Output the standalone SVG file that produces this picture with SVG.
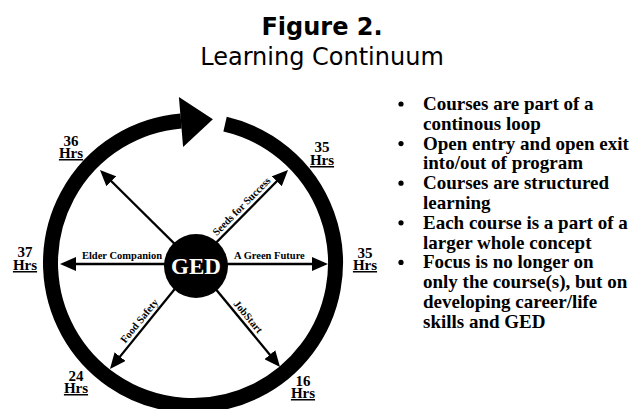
<svg xmlns="http://www.w3.org/2000/svg" width="634" height="409" viewBox="0 0 634 409">
  <style>
    .title { font-family: "DejaVu Sans", Verdana, sans-serif; font-size: 24px; fill: #000; text-anchor: middle; }
    .serif { font-family: "Liberation Serif", "Times New Roman", serif; font-weight: bold; fill: #000; }
    .spoke { stroke: #000; stroke-width: 2.3; fill: none; marker-end: url(#head); }
    .lbl { font-size: 10.5px; }
    .hrs { font-size: 15px; text-anchor: middle; }
    .ul { text-decoration: underline; }
    .bullets { font-size: 19px; }
  </style>
  <defs>
    <marker id="head" markerUnits="userSpaceOnUse" markerWidth="16" markerHeight="14" refX="12" refY="7" orient="auto">
      <path d="M0,0 L16,7 L0,14 Z" fill="#000"/>
    </marker>
  </defs>
  <rect width="634" height="409" fill="#fff"/>

  <g id="title">
    <text class="title" x="322" y="35" font-weight="bold">Figure 2.</text>
    <text class="title" x="322" y="65">Learning Continuum</text>
  </g>

  <!-- continuous loop: thick ring with an arrowhead closing the circle at the top -->
  <g id="loop">
    <path d="M225.06,124.15 A142.5,142.5 0 1 1 181.08,121.0" fill="none" stroke="#000" stroke-width="15"/>
    <polygon points="178.9,97.1 212.9,119.3 183.1,146.9" fill="#000"/>
  </g>

  <!-- spokes from the GED hub to each course -->
  <g id="connectors">
    <line class="spoke" x1="195" y1="264" x2="102.8" y2="172.8"/>
    <line class="spoke" x1="195" y1="264" x2="285.2" y2="172.8"/>
    <line class="spoke" x1="195" y1="264" x2="64" y2="264"/>
    <line class="spoke" x1="195" y1="264" x2="324" y2="264"/>
    <line class="spoke" x1="195" y1="264" x2="112.5" y2="365.9"/>
    <line class="spoke" x1="195" y1="264" x2="277.5" y2="363.9"/>

    <text class="serif lbl" x="162" y="259" text-anchor="end">Elder Companion</text>
    <text class="serif lbl" x="234" y="259">A Green Future</text>
    <text class="serif lbl" transform="translate(195,264) rotate(-45.3)" x="35" y="-4">Seeds for Success</text>
    <text class="serif lbl" transform="translate(195,264) rotate(-51)" x="-106" y="-4">Food Safety</text>
    <text class="serif lbl" transform="translate(195,264) rotate(50.5)" x="55" y="-4">JobStart</text>
  </g>

  <g id="ged">
    <circle cx="196" cy="266" r="32" fill="#000"/>
    <text class="serif" x="196" y="274" font-size="23" text-anchor="middle" style="fill:#fff">GED</text>
  </g>

  <!-- course hours around the loop -->
  <g id="hours-36"><text class="serif hrs" x="71" y="146">36<tspan class="ul" x="71" dy="12">Hrs</tspan></text></g>
  <g id="hours-35-top"><text class="serif hrs" x="322" y="152">35<tspan class="ul" x="322" dy="13">Hrs</tspan></text></g>
  <g id="hours-37"><text class="serif hrs" x="25" y="257">37<tspan class="ul" x="25" dy="13">Hrs</tspan></text></g>
  <g id="hours-35-right"><text class="serif hrs" x="365" y="258">35<tspan class="ul" x="365" dy="12">Hrs</tspan></text></g>
  <g id="hours-24"><text class="serif hrs" x="76" y="381">24<tspan class="ul" x="76" dy="12">Hrs</tspan></text></g>
  <g id="hours-16"><text class="serif hrs" x="303" y="386">16<tspan class="ul" x="303" dy="12">Hrs</tspan></text></g>

  <g id="notes">
    <circle cx="401" cy="104" r="2.6"/>
    <circle cx="401" cy="143.6" r="2.6"/>
    <circle cx="401" cy="183.2" r="2.6"/>
    <circle cx="401" cy="222.8" r="2.6"/>
    <circle cx="401" cy="262.4" r="2.6"/>
    <text class="serif bullets">
      <tspan x="423" y="110">Courses are part of a</tspan>
      <tspan x="423" dy="19.8">continous loop</tspan>
      <tspan x="423" dy="19.8">Open entry and open exit</tspan>
      <tspan x="423" dy="19.8">into/out of program</tspan>
      <tspan x="423" dy="19.8">Courses are structured</tspan>
      <tspan x="423" dy="19.8">learning</tspan>
      <tspan x="423" dy="19.8">Each course is a part of a</tspan>
      <tspan x="423" dy="19.8">larger whole concept</tspan>
      <tspan x="423" dy="19.8">Focus is no longer on</tspan>
      <tspan x="423" dy="19.8">only the course(s), but on</tspan>
      <tspan x="423" dy="19.8">developing career/life</tspan>
      <tspan x="423" dy="19.8">skills and GED</tspan>
    </text>
  </g>
</svg>
